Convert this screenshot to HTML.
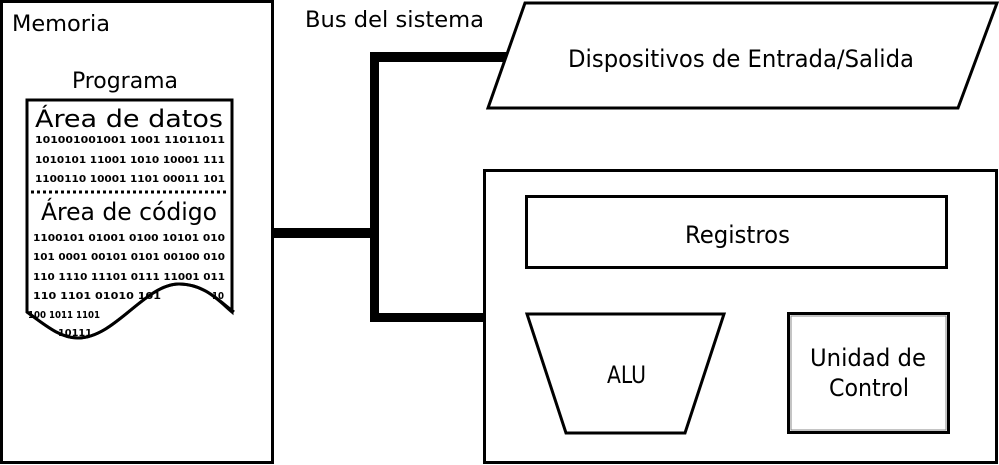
<!DOCTYPE html>
<html><head><meta charset="utf-8"><style>
html,body{margin:0;padding:0;background:#fff;}
svg{display:block;}
text{font-family:"DejaVu Sans Condensed","DejaVu Sans","Liberation Sans",sans-serif;fill:#000;}
.b{font-family:"DejaVu Sans Mono","Liberation Mono",monospace;font-size:10px;font-weight:bold;}
</style></head><body>
<svg width="999" height="465" viewBox="0 0 999 465" xmlns="http://www.w3.org/2000/svg">
<rect x="1.5" y="1.5" width="271" height="461" fill="none" stroke="#000" stroke-width="3"/>
<text x="12" y="31" font-size="22" textLength="98" lengthAdjust="spacingAndGlyphs">Memoria</text>
<text x="72" y="88" font-size="22" textLength="106" lengthAdjust="spacingAndGlyphs">Programa</text>
<path d="M27,100 L232,100 L232,312 C220,302 205,284 179,284 C145,284 115,338 78,338 C60,338 45,325 27,312 Z" fill="#fff" stroke="#000" stroke-width="3"/>
<text x="35" y="127" font-size="24" textLength="188" lengthAdjust="spacingAndGlyphs">Área de datos</text>
<g class="b">
<text x="35" y="143" textLength="190" lengthAdjust="spacingAndGlyphs">101001001001 1001 11011011</text>
<text x="35" y="163" textLength="190" lengthAdjust="spacingAndGlyphs">1010101 11001 1010 10001 111</text>
<text x="35" y="182" textLength="190" lengthAdjust="spacingAndGlyphs">1100110 10001 1101 00011 101</text>
</g>
<line x1="31" y1="192" x2="229" y2="192" stroke="#000" stroke-width="3" stroke-dasharray="3,3"/>
<text x="41" y="220" font-size="24" textLength="176" lengthAdjust="spacingAndGlyphs">Área de código</text>
<g class="b">
<text x="33" y="241" textLength="192" lengthAdjust="spacingAndGlyphs">1100101 01001 0100 10101 010</text>
<text x="33" y="260" textLength="192" lengthAdjust="spacingAndGlyphs">101 0001 00101 0101 00100 010</text>
<text x="33" y="280" textLength="192" lengthAdjust="spacingAndGlyphs">110 1110 11101 0111 11001 011</text>
<text x="33" y="299" textLength="128" lengthAdjust="spacingAndGlyphs">110 1101 01010 101</text>
<text x="212" y="299" textLength="12" lengthAdjust="spacingAndGlyphs">10</text>
<text x="28" y="318" textLength="72" lengthAdjust="spacingAndGlyphs">100 1011 1101</text>
<text x="58" y="336" textLength="34" lengthAdjust="spacingAndGlyphs">10111</text>
</g>
<path d="M27,312 C45,325 60,338 78,338 C115,338 145,284 179,284 C205,284 220,302 234,312" fill="none" stroke="#000" stroke-width="3"/>
<g fill="#000">
<rect x="273" y="228" width="106" height="10"/>
<rect x="370" y="52" width="9" height="270"/>
<rect x="370" y="52" width="140" height="10"/>
<rect x="370" y="313" width="116" height="9"/>
</g>
<text x="305" y="27" font-size="22" textLength="179" lengthAdjust="spacingAndGlyphs">Bus del sistema</text>
<polygon points="525,3 997,3 958,108 488,108" fill="#fff" stroke="#000" stroke-width="3"/>
<text x="568" y="67" font-size="24" textLength="346" lengthAdjust="spacingAndGlyphs">Dispositivos de Entrada/Salida</text>
<rect x="484.5" y="170.5" width="512" height="292" fill="none" stroke="#000" stroke-width="3"/>
<rect x="526.5" y="196.5" width="420" height="71" fill="none" stroke="#000" stroke-width="3"/>
<text x="685" y="243" font-size="24" textLength="105" lengthAdjust="spacingAndGlyphs">Registros</text>
<polygon points="527,314 724,314 685,433 566,433" fill="none" stroke="#000" stroke-width="3"/>
<text x="607" y="383" font-size="24" textLength="39" lengthAdjust="spacingAndGlyphs">ALU</text>
<rect x="788.5" y="313.5" width="160" height="119" fill="none" stroke="#000" stroke-width="3"/>
<rect x="791" y="316" width="155" height="114" fill="none" stroke="#888" stroke-width="1"/>
<text x="810" y="366" font-size="24" textLength="116" lengthAdjust="spacingAndGlyphs">Unidad de</text>
<text x="829" y="396" font-size="24" textLength="80" lengthAdjust="spacingAndGlyphs">Control</text>
</svg>
</body></html>
